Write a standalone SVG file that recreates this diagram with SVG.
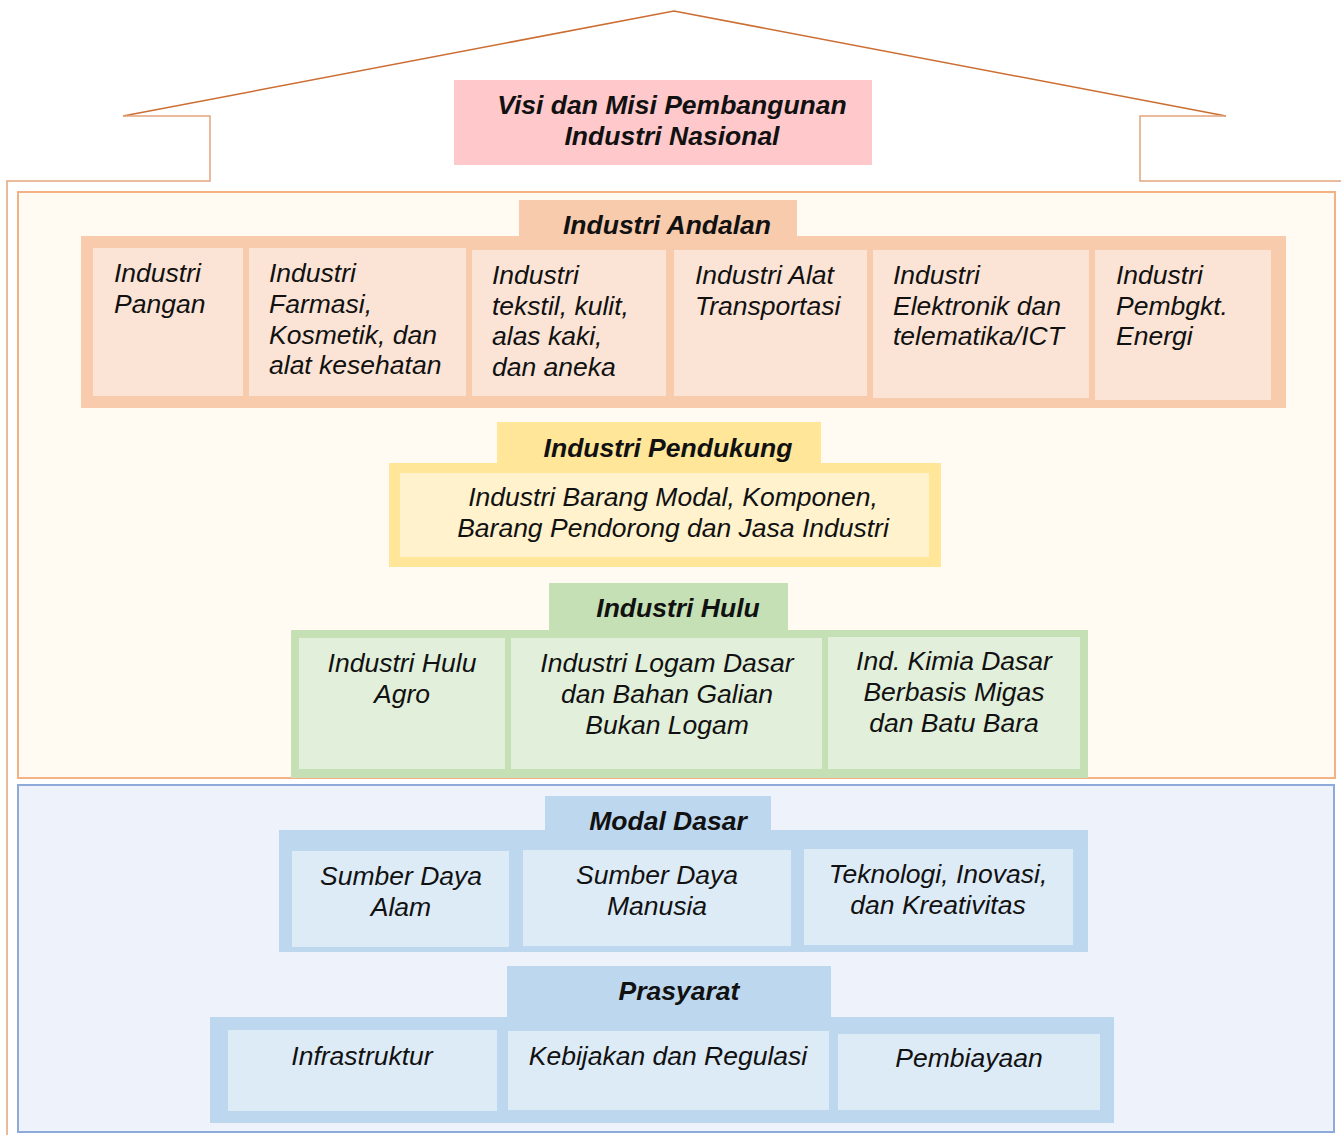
<svg xmlns="http://www.w3.org/2000/svg" width="1341" height="1135" viewBox="0 0 1341 1135">
<style>
text{font-family:"Liberation Sans",Arial,sans-serif;font-style:italic;font-size:26.5px;fill:#111}
.b{font-weight:bold}
.c{text-anchor:middle}
.roof{fill:none;stroke:#cc6d32;stroke-width:1.5}
.wall{fill:none;stroke:#e2a57c;stroke-width:1.5}
.pk{fill:#ffc9cb}
.or{fill:#f7cbac}.or2{fill:#fbe4d5}
.ye{fill:#ffe699}.ye2{fill:#fff2cc}
.gr{fill:#c5e0b4}.gr2{fill:#e2efda}
.bl{fill:#bdd7ee}.bl2{fill:#ddebf7}
</style>
<rect width="1341" height="1135" fill="#fff"/>
<g id="house">
<polyline class="roof" points="123,116 674,11 1226,116"/>
<polyline class="wall" points="123,116 210,116 210,181 7,181 7,1135"/>
<polyline class="wall" points="1226,116 1140,116 1140,181 1341,181"/>
</g>
<g id="visi">
<rect class="pk" x="454" y="80" width="418" height="85"/>
<text class="b c" x="672" y="114">Visi dan Misi Pembangunan</text>
<text class="b c" x="672" y="145">Industri Nasional</text>
</g>
<rect id="industri-area" x="18" y="192" width="1317" height="586" fill="#fffaf2" stroke="#f4b183" stroke-width="2"/>
<rect id="dasar-area" x="18" y="785" width="1316" height="347" fill="#eef3fb" stroke="#8eaadb" stroke-width="2"/>
<g id="andalan">
<rect class="or" x="519" y="200" width="278" height="40"/>
<rect class="or" x="81" y="236" width="1205" height="172"/>
<text class="b c" x="667" y="234">Industri Andalan</text>
<rect class="or2" x="93" y="248" width="150" height="148"/>
<rect class="or2" x="249" y="248" width="217" height="148"/>
<rect class="or2" x="472" y="250" width="194" height="146"/>
<rect class="or2" x="674" y="250" width="193" height="146"/>
<rect class="or2" x="873" y="250" width="216" height="148"/>
<rect class="or2" x="1095" y="250" width="176" height="150"/>
<text x="114" y="282">Industri<tspan x="114" y="313">Pangan</tspan></text>
<text x="269" y="282">Industri<tspan x="269" y="313">Farmasi,</tspan><tspan x="269" y="344">Kosmetik, dan</tspan><tspan x="269" y="374">alat kesehatan</tspan></text>
<text x="492" y="284">Industri<tspan x="492" y="315">tekstil, kulit,</tspan><tspan x="492" y="345">alas kaki,</tspan><tspan x="492" y="376">dan aneka</tspan></text>
<text x="695" y="284">Industri Alat<tspan x="695" y="315">Transportasi</tspan></text>
<text x="893" y="284">Industri<tspan x="893" y="315">Elektronik dan</tspan><tspan x="893" y="345">telematika/ICT</tspan></text>
<text x="1116" y="284">Industri<tspan x="1116" y="315">Pembgkt.</tspan><tspan x="1116" y="345">Energi</tspan></text>
</g>
<g id="pendukung">
<rect class="ye" x="497" y="422" width="324" height="46"/>
<rect class="ye" x="389" y="463" width="552" height="104"/>
<rect class="ye2" x="400" y="473" width="529" height="84"/>
<text class="b c" x="668" y="457">Industri Pendukung</text>
<text class="c" x="673" y="506">Industri Barang Modal, Komponen,</text>
<text class="c" x="673" y="537">Barang Pendorong dan Jasa Industri</text>
</g>
<g id="hulu">
<rect class="gr" x="549" y="583" width="239" height="52"/>
<rect class="gr" x="291" y="630" width="797" height="148"/>
<rect class="gr2" x="299" y="638" width="206" height="131"/>
<rect class="gr2" x="511" y="638" width="311" height="131"/>
<rect class="gr2" x="828" y="637" width="252" height="132"/>
<text class="b c" x="678" y="617">Industri Hulu</text>
<text class="c" x="402" y="672">Industri Hulu<tspan x="402" y="703">Agro</tspan></text>
<text class="c" x="667" y="672">Industri Logam Dasar<tspan x="667" y="703">dan Bahan Galian</tspan><tspan x="667" y="734">Bukan Logam</tspan></text>
<text class="c" x="954" y="670">Ind. Kimia Dasar<tspan x="954" y="701">Berbasis Migas</tspan><tspan x="954" y="732">dan Batu Bara</tspan></text>
</g>
<g id="modal">
<rect class="bl" x="545" y="796" width="226" height="38"/>
<rect class="bl" x="279" y="830" width="809" height="122"/>
<rect class="bl2" x="292" y="851" width="217" height="96"/>
<rect class="bl2" x="523" y="850" width="268" height="96"/>
<rect class="bl2" x="804" y="849" width="269" height="96"/>
<text class="b c" x="668" y="830">Modal Dasar</text>
<text class="c" x="401" y="885">Sumber Daya<tspan x="401" y="916">Alam</tspan></text>
<text class="c" x="657" y="884">Sumber Daya<tspan x="657" y="915">Manusia</tspan></text>
<text class="c" x="938" y="883">Teknologi, Inovasi,<tspan x="938" y="914">dan Kreativitas</tspan></text>
</g>
<g id="prasyarat">
<rect class="bl" x="507" y="966" width="324" height="53"/>
<rect class="bl" x="210" y="1017" width="904" height="106"/>
<rect class="bl2" x="228" y="1030" width="269" height="81"/>
<rect class="bl2" x="508" y="1031" width="321" height="79"/>
<rect class="bl2" x="838" y="1034" width="262" height="76"/>
<text class="b c" x="679" y="1000">Prasyarat</text>
<text class="c" x="362" y="1065">Infrastruktur</text>
<text class="c" x="668" y="1065">Kebijakan dan Regulasi</text>
<text class="c" x="969" y="1067">Pembiayaan</text>
</g>
<g id="connectors"></g>
</svg>
